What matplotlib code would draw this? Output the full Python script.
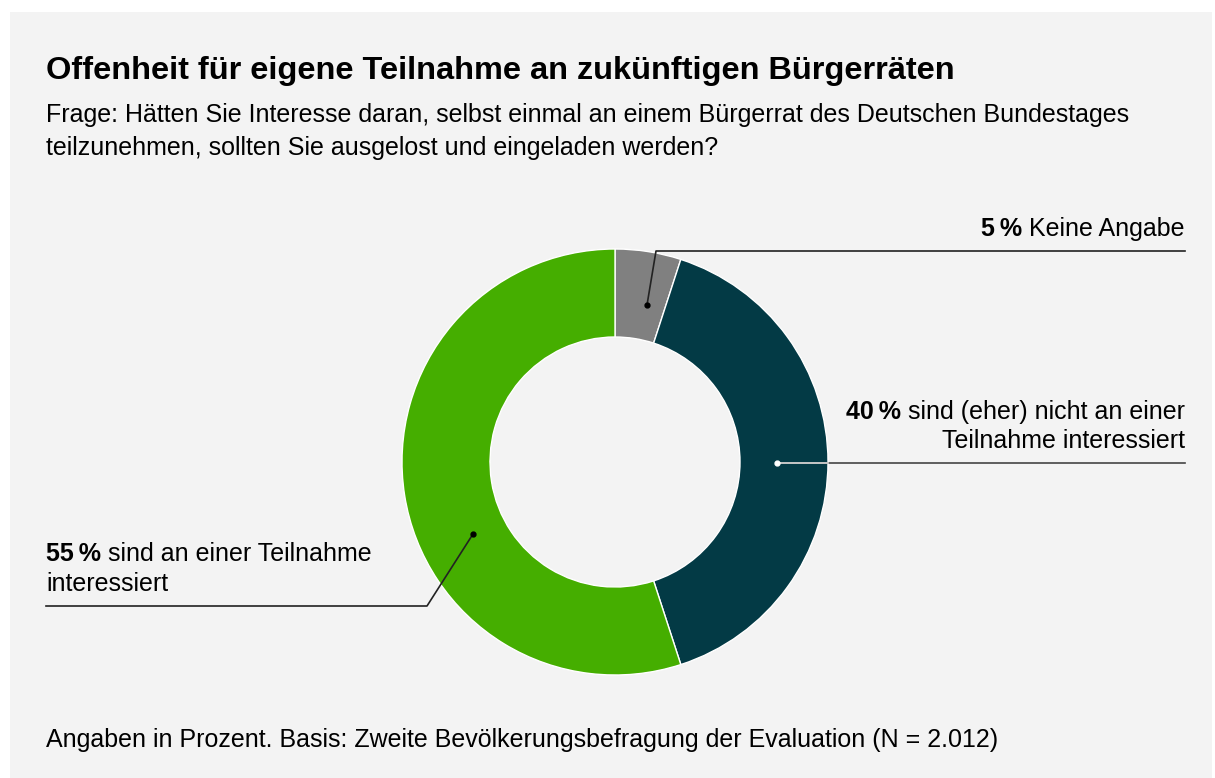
import matplotlib.pyplot as plt
from matplotlib.patches import Rectangle

plt.rcParams['font.family'] = ['Liberation Sans', 'DejaVu Sans']

# survey result, order = clockwise from 12 o'clock
shares = [5, 40, 55]
share_labels = ['5\u2009%', '40\u2009%', '55\u2009%']
colors = ['#808080', '#033a45', '#45ae00']

title = 'Offenheit für eigene Teilnahme an zukünftigen Bürgerräten'
question = ['Frage: Hätten Sie Interesse daran, selbst einmal an einem Bürgerrat des Deutschen Bundestages',
            'teilzunehmen, sollten Sie ausgelost und eingeladen werden?']
footer = 'Angaben in Prozent. Basis: Zweite Bevölkerungsbefragung der Evaluation (N = 2.012)'

W, H = 1215, 778
fig = plt.figure(figsize=(W / 100, H / 100), dpi=100)
fig.patch.set_facecolor('white')
ax = fig.add_axes([0, 0, 1, 1])
ax.add_patch(Rectangle((10, 0), 1202, H - 12, facecolor='#f3f3f3', edgecolor='none', zorder=0))

# donut, in pixel coords (y up)
cx, cy = 615, H - 462
ax.pie(shares, colors=colors, startangle=90, counterclock=False,
       center=(cx, cy), radius=213,
       wedgeprops=dict(width=88, edgecolor='white', linewidth=1))
ax.set_xlim(0, W)
ax.set_ylim(0, H)
ax.set_aspect('equal')
ax.axis('off')

fs = 18
ax.text(46, H - 79, title, fontsize=23.4, fontweight='bold', va='baseline', ha='left')
ax.text(46, H - 122, question[0], fontsize=fs, va='baseline', ha='left')
ax.text(46, H - 155, question[1], fontsize=fs, va='baseline', ha='left')
ax.text(46, H - 747, footer, fontsize=fs, va='baseline', ha='left')

renderer = fig.canvas.get_renderer()


def right_label(x, y, bold, rest):
    t = ax.text(x, y, rest, fontsize=fs, ha='right', va='baseline')
    bb = t.get_window_extent(renderer)
    x0 = ax.transData.inverted().transform((bb.x0, bb.y0))[0]
    ax.text(x0, y, bold, fontsize=fs, fontweight='bold', ha='right', va='baseline')


def left_label(x, y, bold, rest):
    t = ax.text(x, y, bold, fontsize=fs, fontweight='bold', ha='left', va='baseline')
    bb = t.get_window_extent(renderer)
    x1 = ax.transData.inverted().transform((bb.x1, bb.y0))[0]
    ax.text(x1, y, rest, fontsize=fs, ha='left', va='baseline')


# 5 % label
right_label(1185, H - 236, share_labels[0], ' Keine Angabe')
ax.plot([647, 656, 1185], [H - 305, H - 251, H - 251], color='#222222', lw=1.2)
ax.plot(647, H - 305, 'o', color='black', ms=3.5)

# 40 % label
right_label(1185, H - 419, share_labels[1], ' sind (eher) nicht an einer')
ax.text(1185, H - 448, 'Teilnahme interessiert', fontsize=fs, ha='right', va='baseline')
ax.plot([777, 1185], [H - 463, H - 463], color='#444444', lw=1.2)
ax.plot([777, 828], [H - 463, H - 463], color='#dddddd', lw=1.2)
ax.plot(777, H - 463, 'o', color='white', ms=3.5)

# 55 % label
left_label(46, H - 561, share_labels[2], ' sind an einer Teilnahme')
ax.text(46, H - 591, 'interessiert', fontsize=fs, ha='left', va='baseline')
ax.plot([473, 427, 46], [H - 534, H - 606, H - 606], color='#222222', lw=1.2)
ax.plot(473, H - 534, 'o', color='black', ms=3.5)

fig.savefig('out.png', dpi=100, facecolor=fig.get_facecolor())
